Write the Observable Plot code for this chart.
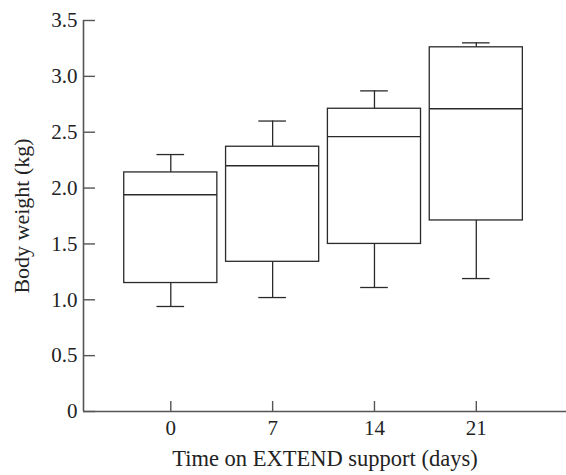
<!DOCTYPE html>
<html>
<head>
<meta charset="utf-8">
<script src="https://cdn.jsdelivr.net/npm/d3@7"></script>
<script src="https://cdn.jsdelivr.net/npm/@observablehq/plot@0.6"></script>
<style>
  html, body { margin: 0; padding: 0; background: #fff; }
</style>
</head>
<body>
<div id="chart"></div>
<script>
const days    = [0, 7, 14, 21];
const mins    = [0.94, 1.02, 1.11, 1.19];
const q1s     = [1.15, 1.34, 1.50, 1.71];
const medians = [1.94, 2.20, 2.46, 2.71];
const q3s     = [2.14, 2.37, 2.71, 3.26];
const maxs    = [2.30, 2.60, 2.87, 3.30];
const yTicks  = [0, 0.5, 1.0, 1.5, 2.0, 2.5, 3.0, 3.5];
const xLabel  = "Time on EXTEND support (days)";
const yLabel  = "Body weight (kg)";

const rows = days.map((d, i) => ({day: d, min: mins[i], q1: q1s[i], med: medians[i], q3: q3s[i], max: maxs[i]}));
const halfBox = 3.2, halfCap = 0.95;
const ink = "#2a2a2a", axisInk = "#555";

const chart = Plot.plot({
  width: 566, height: 475,
  marginLeft: 83, marginRight: 0, marginTop: 20, marginBottom: 64,
  style: {fontFamily: "'Liberation Serif', 'Times New Roman', serif", fontSize: "21px", color: "#222", background: "#fff"},
  x: {domain: [-6, 27.2]},
  y: {domain: [0, 3.5]},
  marks: [
    Plot.ruleX(rows, {x: "day", y1: "q3", y2: "max", stroke: ink, strokeWidth: 1.3}),
    Plot.ruleX(rows, {x: "day", y1: "min", y2: "q1", stroke: ink, strokeWidth: 1.3}),
    Plot.ruleY(rows, {y: "max", x1: d => d.day - halfCap, x2: d => d.day + halfCap, stroke: ink, strokeWidth: 1.3}),
    Plot.ruleY(rows, {y: "min", x1: d => d.day - halfCap, x2: d => d.day + halfCap, stroke: ink, strokeWidth: 1.3}),
    Plot.rect(rows, {x1: d => d.day - halfBox, x2: d => d.day + halfBox, y1: "q1", y2: "q3", fill: "#fff", stroke: ink, strokeWidth: 1.3}),
    Plot.ruleY(rows, {y: "med", x1: d => d.day - halfBox, x2: d => d.day + halfBox, stroke: ink, strokeWidth: 1.3}),
    Plot.ruleY([0], {stroke: axisInk, strokeWidth: 1.6}),
    Plot.ruleX([-6], {stroke: axisInk, strokeWidth: 1.6}),
    Plot.axisY(yTicks, {tickSize: -12, tickPadding: 18, stroke: axisInk, strokeWidth: 1.4,
      tickFormat: d => d === 0 ? "0" : d.toFixed(1), label: null, fontSize: 21}),
    Plot.axisX(days, {tickSize: -10, tickPadding: 19, stroke: axisInk, strokeWidth: 1.4,
      tickFormat: d => String(d), label: null, fontSize: 21}),
    Plot.text([xLabel], {frameAnchor: "bottom", dy: 47, lineAnchor: "middle", fontSize: 22.5, fill: "#222"}),
    Plot.text([yLabel], {frameAnchor: "left", dx: -62, rotate: -90, textAnchor: "middle", lineAnchor: "middle", fontSize: 22, fill: "#222"})
  ]
});
document.getElementById("chart").appendChild(chart);
</script>
</body>
</html>
